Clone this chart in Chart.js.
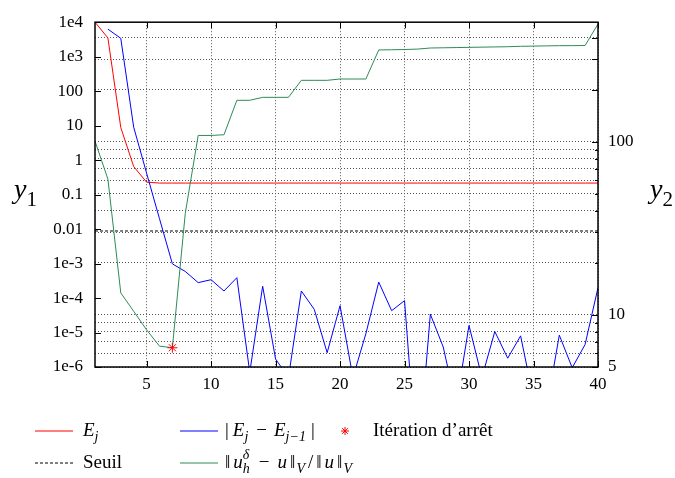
<!DOCTYPE html>
<html>
<head>
<meta charset="utf-8">
<script src="https://cdn.jsdelivr.net/npm/chart.js@4/dist/chart.umd.min.js"></script>
<style>
  html, body { margin: 0; padding: 0; background: #fff; }
</style>
</head>
<body>
<canvas id="convChart" width="675" height="478"></canvas>
<script>
// iteration index j
const iterations = [1, 2, 3, 4, 5, 6, 7, 8, 9, 10, 11, 12, 13, 14, 15, 16, 17, 18, 19, 20,
  21, 22, 23, 24, 25, 26, 27, 28, 29, 30, 31, 32, 33, 34, 35, 36, 37, 38, 39, 40];

// E_j (left axis)
const energy = [10000, 3500, 8.8, 0.65, 0.23, 0.216, 0.216, 0.216, 0.216, 0.216,
  0.216, 0.216, 0.216, 0.216, 0.216, 0.216, 0.216, 0.216, 0.216, 0.216,
  0.216, 0.216, 0.216, 0.216, 0.216, 0.216, 0.216, 0.216, 0.216, 0.216,
  0.216, 0.216, 0.216, 0.216, 0.216, 0.216, 0.216, 0.216, 0.216, 0.216];

// |E_j - E_{j-1}| (left axis), undefined for j = 1
const energyDiff = [null, 6300, 3400, 9, 0.42, 0.02, 9.8e-4, 5.9e-4, 2.8e-4, 3.4e-4,
  1.6e-4, 3.9e-4, 7e-7, 2.2e-4, 1.7e-6, 5e-7, 1.6e-4, 4.7e-5, 2.6e-6, 6e-5,
  5e-7, 9.2e-6, 2.9e-4, 4.3e-5, 8.4e-5, 1e-9, 3.4e-5, 3.8e-6, 8e-8, 1.6e-5,
  5e-7, 1.07e-5, 1.8e-6, 8e-6, 1.2e-7, 6e-8, 8.4e-6, 9.5e-7, 4.5e-6, 2e-4];

// relative error ||u_h - u||_V / ||u||_V (right axis)
const relError = [101, 61, 13.4, 10.5, 8.2, 6.6, 6.46, 38.7, 109, 109,
  110, 174, 174, 181, 181, 181, 227, 227, 227, 231,
  231, 231, 340, 341, 342, 344, 349, 350, 351, 352,
  353, 354, 355, 357, 358, 359, 360, 360, 361, 480];

const threshold = 0.0088;
const stopIteration = 7;
const stopError = 6.46;

const xTicks = [5, 10, 15, 20, 25, 30, 35, 40];
const y1Ticks = [1e4, 1e3, 100, 10, 1, 0.1, 0.01, 1e-3, 1e-4, 1e-5, 1e-6];
const y1Labels = ["1e4", "1e3", "100", "10", "1", "0.1", "0.01", "1e-3", "1e-4", "1e-5", "1e-6"];
const y2Ticks = [5, 6, 7, 8, 9, 10, 20, 30, 40, 50, 60, 70, 80, 90, 100, 200, 300, 400];
const y2Labels = ["5", "", "", "", "", "10", "", "", "", "", "", "", "", "", "100", "", "", ""];

const serif = "'Liberation Serif', 'Times New Roman', serif";
const red = "#ff0000";
const blue = "#0000ff";
const green = "#2e8b57";

const points = (vals) => iterations.map((j, i) => ({ x: j, y: vals[i] }));

// little math typesetter for legend entries and axis titles
// part: { t, it } text run, { sub, sup, it } scripts, { gap } horizontal space
function drawMath(ctx, x, y, parts, size) {
  for (const p of parts) {
    const it = p.it ? "italic " : "";
    if (p.gap) {
      x += p.gap;
    } else if (p.sub !== undefined || p.sup !== undefined) {
      const s = Math.round(size * 0.74);
      ctx.font = it + s + "px " + serif;
      let w = 0;
      if (p.sup) {
        ctx.fillText(p.sup, x, y - size * 0.42);
        w = Math.max(w, ctx.measureText(p.sup).width);
      }
      if (p.sub) {
        ctx.fillText(p.sub, x, y + size * 0.34);
        w = Math.max(w, ctx.measureText(p.sub).width);
      }
      x += w + 1;
    } else {
      ctx.font = it + size + "px " + serif;
      ctx.fillText(p.t, x, y);
      x += ctx.measureText(p.t).width;
    }
  }
}

const framePlugin = {
  id: "frame",
  afterDatasetsDraw(chart) {
    const { ctx, chartArea: a, scales } = chart;
    ctx.save();
    ctx.strokeStyle = "#000";
    ctx.lineWidth = 1;
    ctx.beginPath();
    // x ticks, bottom and top
    xTicks.forEach((v) => {
      const px = Math.round(scales.x.getPixelForValue(v)) + 0.5;
      ctx.moveTo(px, a.bottom); ctx.lineTo(px, a.bottom - 6);
      ctx.moveTo(px, a.top); ctx.lineTo(px, a.top + 6);
    });
    // left decades
    y1Ticks.forEach((v) => {
      const py = Math.round(scales.y.getPixelForValue(v)) + 0.5;
      ctx.moveTo(a.left, py); ctx.lineTo(a.left + 6, py);
    });
    // right axis, decades and hundreds longer
    y2Ticks.forEach((v, i) => {
      const py = Math.round(scales.y2.getPixelForValue(v)) + 0.5;
      const len = y2Labels[i] || v % 100 === 0 ? 6 : 3;
      ctx.moveTo(a.right, py); ctx.lineTo(a.right - len, py);
    });
    ctx.stroke();
    ctx.lineWidth = 1.5;
    ctx.strokeRect(a.left, a.top, a.right - a.left, a.bottom - a.top);
    ctx.restore();
  },
  afterDraw(chart) {
    const c = chart.ctx;
    c.save();
    c.textBaseline = "middle";
    c.textAlign = "left";

    const r1 = 431, r2 = 463, fs = 19;
    // legend sample line
    const seg = (x0, x1, y, color, dash) => {
      c.save();
      c.beginPath();
      c.strokeStyle = color;
      c.lineWidth = 1.2;
      c.setLineDash(dash || []);
      c.moveTo(x0, y);
      c.lineTo(x1, y);
      c.stroke();
      c.restore();
    };

    seg(35, 73, r1, red);
    seg(180, 218, r1, blue);
    seg(35, 73, r2, "#000", [3, 2]);
    seg(180, 218, r2, green);

    // stop marker
    c.strokeStyle = red;
    c.lineWidth = 1;
    c.beginPath();
    const sx = 345, sy = r1, sr = 4;
    c.moveTo(sx - sr, sy); c.lineTo(sx + sr, sy);
    c.moveTo(sx, sy - sr); c.lineTo(sx, sy + sr);
    c.moveTo(sx - sr * 0.7, sy - sr * 0.7); c.lineTo(sx + sr * 0.7, sy + sr * 0.7);
    c.moveTo(sx - sr * 0.7, sy + sr * 0.7); c.lineTo(sx + sr * 0.7, sy - sr * 0.7);
    c.stroke();

    c.fillStyle = "#000";
    // axis titles
    drawMath(c, 14, 191, [{ t: "y", it: 1 }, { sub: "1" }], 28);
    drawMath(c, 650, 191, [{ t: "y", it: 1 }, { sub: "2" }], 28);

    drawMath(c, 83, r1, [{ t: "E", it: 1 }, { sub: "j", it: 1 }], fs);
    drawMath(c, 225, r1, [{ t: "|" }, { gap: 4 }, { t: "E", it: 1 }, { sub: "j", it: 1 }, { gap: 7 },
      { t: "−" }, { gap: 7 }, { t: "E", it: 1 }, { sub: "j−1", it: 1 }, { gap: 4 }, { t: "|" }], fs);
    drawMath(c, 373, r1, [{ t: "Itération d’arrêt" }], fs);
    drawMath(c, 83, r2, [{ t: "Seuil" }], fs);
    drawMath(c, 225, r2, [{ t: "‖" }, { gap: 3 }, { t: "u", it: 1 }, { sup: "δ", sub: "h", it: 1 }, { gap: 8 },
      { t: "−" }, { gap: 8 }, { t: "u", it: 1 }, { gap: 3 }, { t: "‖" }, { gap: 1 }, { sub: "V", it: 1 },
      { gap: 2 }, { t: "/" }, { gap: 3 }, { t: "‖" }, { gap: 3 }, { t: "u", it: 1 }, { gap: 3 },
      { t: "‖" }, { gap: 1 }, { sub: "V", it: 1 }], fs);
    c.restore();
  }
};

const ctx = document.getElementById("convChart").getContext("2d");
new Chart(ctx, {
  type: "line",
  data: {
    datasets: [
      {
        label: "E_j",
        data: points(energy),
        yAxisID: "y",
        borderColor: red,
        borderWidth: 1,
        pointRadius: 0,
        order: 5,
      },
      {
        label: "|E_j - E_j-1|",
        data: points(energyDiff),
        yAxisID: "y",
        borderColor: blue,
        borderWidth: 1,
        pointRadius: 0,
        order: 4,
      },
      {
        label: "Itération d'arrêt",
        data: [{ x: stopIteration, y: stopError }],
        yAxisID: "y2",
        showLine: false,
        pointStyle: "star",
        pointRadius: 5,
        borderColor: red,
        backgroundColor: red,
        pointBorderWidth: 1,
        order: 1,
      },
      {
        label: "Seuil",
        data: iterations.map((j) => ({ x: j, y: threshold })),
        yAxisID: "y",
        borderColor: "#000",
        borderWidth: 1,
        borderDash: [3, 2],
        pointRadius: 0,
        order: 3,
      },
      {
        label: "rel. error",
        data: points(relError),
        yAxisID: "y2",
        borderColor: green,
        borderWidth: 1,
        pointRadius: 0,
        order: 2,
      },
    ],
  },
  options: {
    responsive: false,
    animation: false,
    layout: { padding: { top: 17, left: 0, right: 0, bottom: 0 } },
    plugins: {
      legend: { display: false },
      tooltip: { enabled: false },
    },
    scales: {
      x: {
        type: "linear",
        min: 1,
        max: 40,
        afterBuildTicks: (s) => { s.ticks = xTicks.map((v) => ({ value: v })); },
        afterFit: (s) => { s.height = 111; },
        grid: { color: "#555", lineWidth: 1, drawTicks: false },
        border: { display: false, dash: [1, 2] },
        ticks: {
          color: "#000",
          font: { family: serif, size: 17 },
          padding: 7,
          maxRotation: 0,
          autoSkip: false,
        },
      },
      y: {
        type: "logarithmic",
        position: "left",
        min: 1e-6,
        max: 1e4,
        afterBuildTicks: (s) => { s.ticks = y1Ticks.map((v) => ({ value: v })); },
        afterFit: (s) => { s.width = 95; },
        grid: { display: false, drawTicks: false },
        border: { display: false },
        ticks: {
          color: "#000",
          font: { family: serif, size: 17 },
          padding: 12,
          autoSkip: false,
          callback: (v, i) => y1Labels[i],
        },
      },
      y2: {
        type: "logarithmic",
        position: "right",
        min: 5,
        max: 492,
        afterBuildTicks: (s) => { s.ticks = y2Ticks.map((v) => ({ value: v })); },
        afterFit: (s) => { s.width = 77; },
        grid: { color: "#555", lineWidth: 1, drawTicks: false },
        border: { display: false, dash: [1, 2] },
        ticks: {
          color: "#000",
          font: { family: serif, size: 17 },
          padding: 10,
          autoSkip: false,
          callback: (v, i) => y2Labels[i],
        },
      },
    },
  },
  plugins: [framePlugin],
});
</script>
</body>
</html>
